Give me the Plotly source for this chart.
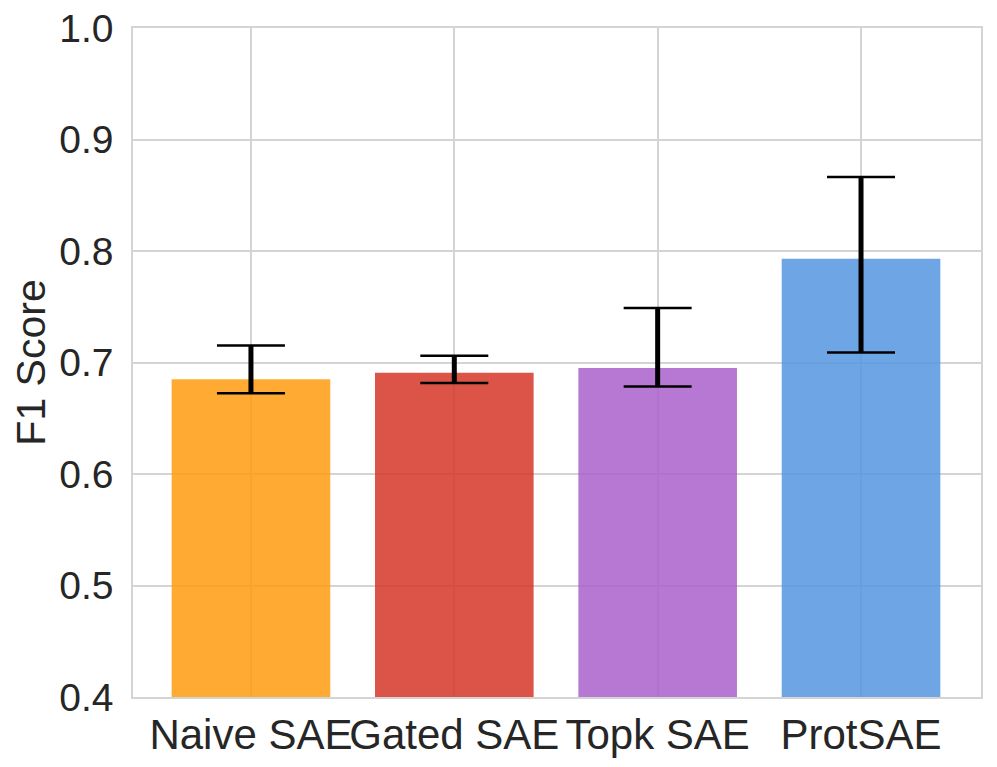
import plotly.graph_objects as go

categories = ["Naive SAE", "Gated SAE", "Topk SAE", "ProtSAE"]
f1_mean = [0.685, 0.6907, 0.6951, 0.7931]
err_upper = [0.7153, 0.706, 0.7488, 0.8663]
err_lower = [0.6725, 0.6817, 0.6784, 0.709]
bar_colors = ["rgb(255,156,15)", "rgb(213,55,40)", "rgb(171,97,204)", "rgb(84,149,224)"]
y_ticks = [0.4, 0.5, 0.6, 0.7, 0.8, 0.9, 1.0]

xs = list(range(len(categories)))
plus = [u - m for u, m in zip(err_upper, f1_mean)]
minus = [m - l for m, l in zip(f1_mean, err_lower)]

font_family = "Liberation Sans, Arial, sans-serif"
text_color = "#262626"

fig = go.Figure()
fig.add_trace(go.Bar(
    x=xs, y=f1_mean, width=0.78,
    marker=dict(color=bar_colors, line=dict(width=0)),
    opacity=0.85, hoverinfo="skip",
))
# vertical stems (thick)
fig.add_trace(go.Scatter(
    x=xs, y=f1_mean, mode="markers", marker=dict(size=0.1, opacity=0),
    error_y=dict(type="data", symmetric=False, array=plus, arrayminus=minus,
                 color="black", thickness=5, width=0),
    hoverinfo="skip",
))
# caps (thinner)
fig.add_trace(go.Scatter(
    x=xs, y=f1_mean, mode="markers", marker=dict(size=0.1, opacity=0),
    error_y=dict(type="data", symmetric=False, array=plus, arrayminus=minus,
                 color="black", thickness=2.5, width=34),
    hoverinfo="skip",
))

fig.update_layout(
    width=997, height=767,
    margin=dict(l=125, r=24, t=20, b=78, autoexpand=False),
    paper_bgcolor="white", plot_bgcolor="white",
    showlegend=False,
    font=dict(family=font_family, color=text_color),
    xaxis=dict(
        tickmode="array", tickvals=xs, ticktext=categories,
        range=[-0.58, 3.59], tickangle=0, automargin=False,
        showgrid=True, gridcolor="#d4d4d4", gridwidth=1.5,
        showline=True, linecolor="#d4d4d4", linewidth=1.5, mirror=True,
        ticks="", tickfont=dict(size=42, color=text_color, family=font_family),
        ticklabeloverflow="allow",
        zeroline=False,
    ),
    yaxis=dict(
        range=[0.4, 1.0], tickvals=y_ticks, ticktext=[f"{v:.1f}" for v in y_ticks],
        automargin=False,
        showgrid=True, gridcolor="#d4d4d4", gridwidth=1.5,
        showline=True, linecolor="#d4d4d4", linewidth=1.5, mirror=True,
        ticks="", tickfont=dict(size=39, color=text_color, family=font_family),
        ticklabeloverflow="allow", ticklabelstandoff=10,
        title=dict(text="F1 Score", font=dict(size=41, color=text_color, family=font_family), standoff=6),
        zeroline=False,
    ),
)

fig.write_html("out.html")
